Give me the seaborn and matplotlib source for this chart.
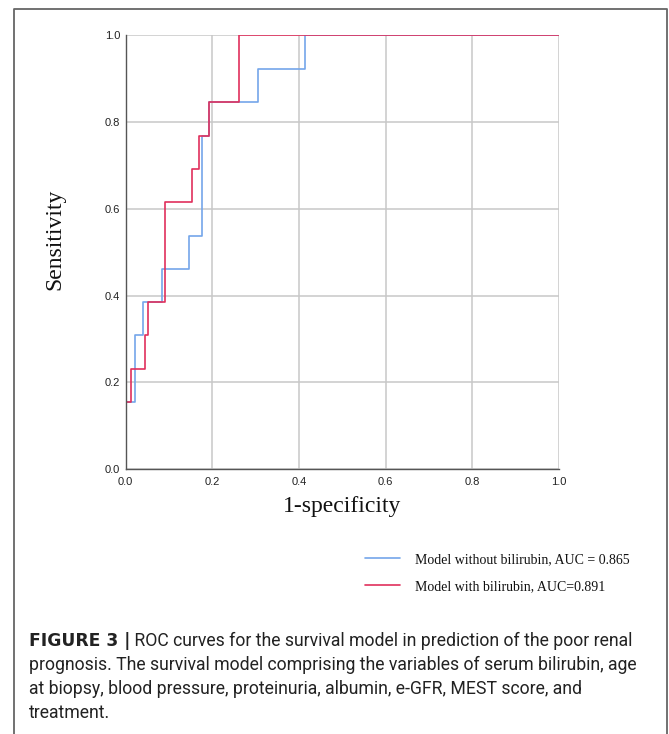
import matplotlib
matplotlib.use("Agg")
import matplotlib.pyplot as plt
import seaborn as sns
import pandas as pd
from matplotlib.lines import Line2D

# ---- data ----
blue_fpr = [0.0, 0.0, 0.022, 0.039, 0.0845, 0.147, 0.176, 0.192, 0.306, 0.414, 1.0]
blue_tpr = [0.0, 0.154, 0.308, 0.385, 0.462, 0.538, 0.769, 0.846, 0.923, 1.0, 1.0]
red_fpr = [0.0, 0.0, 0.0115, 0.045, 0.0515, 0.091, 0.153, 0.169, 0.192, 0.261, 1.0]
red_tpr = [0.0, 0.154, 0.231, 0.308, 0.385, 0.615, 0.692, 0.769, 0.846, 1.0, 1.0]
label_blue = "Model without bilirubin, AUC = 0.865"
label_red = "Model with bilirubin, AUC=0.891"
ticks = [0.0, 0.2, 0.4, 0.6, 0.8, 1.0]
tick_labels = ["0.0", "0.2", "0.4", "0.6", "0.8", "1.0"]
caption_bold = "FIGURE 3 |"
caption_lines = [
    " ROC curves for the survival model in prediction of the poor renal",
    "prognosis. The survival model comprising the variables of serum bilirubin, age",
    "at biopsy, blood pressure, proteinuria, albumin, e-GFR, MEST score, and",
    "treatment.",
]

sns.set_theme(style="white")
plt.rcParams["font.family"] = ["Liberation Sans", "DejaVu Sans"]

W, H = 669, 734
fig = plt.figure(figsize=(W / 100, H / 100), dpi=100)
fig.patch.set_facecolor("white")

def fx(px):
    return px / W

def fy(py):
    return (H - py) / H

ax = fig.add_axes([fx(125.7), fy(469), (559 - 125.7) / W, (469 - 35.5) / H])

df_b = pd.DataFrame({"fpr": blue_fpr, "tpr": blue_tpr})
df_r = pd.DataFrame({"fpr": red_fpr, "tpr": red_tpr})
sns.lineplot(data=df_b, x="fpr", y="tpr", ax=ax, estimator=None, sort=False,
             drawstyle="steps-post", color="#74a6ea", linewidth=1.2, label=label_blue)
sns.lineplot(data=df_r, x="fpr", y="tpr", ax=ax, estimator=None, sort=False,
             drawstyle="steps-post", color="#e0305c", linewidth=1.2, label=label_red)

ax.set_xlim(0, 1)
ax.set_ylim(0, 1)
ax.set_xticks(ticks)
ax.set_yticks(ticks)
ax.set_xticklabels(tick_labels)
ax.set_yticklabels(tick_labels)
ax.tick_params(axis="both", length=0, labelsize=8, colors="#222222")
ax.tick_params(axis="x", pad=6)
ax.tick_params(axis="y", pad=4)
ax.grid(True, color="#c8c8c8", linewidth=1.1)
ax.set_axisbelow(True)
for s in ["top", "right"]:
    ax.spines[s].set_visible(False)
for s in ["left", "bottom"]:
    ax.spines[s].set_color("#555555")
    ax.spines[s].set_linewidth(1.0)

ax.set_xlabel("1-specificity", family="Liberation Serif", fontsize=17, color="#111111")
ax.set_ylabel("Sensitivity", family="Liberation Serif", fontsize=17, color="#111111")
ax.xaxis.set_label_coords(0.5, -0.062)
ax.yaxis.set_label_coords(-0.14, 0.53)

handles, labels = ax.get_legend_handles_labels()
leg = ax.legend(handles, labels, loc="upper left", bbox_to_anchor=(fx(358), fy(546)),
                bbox_transform=fig.transFigure, frameon=False, borderpad=0,
                handlelength=2.5, handletextpad=1.1, labelspacing=1.0,
                prop={"family": "Liberation Serif", "size": 10})
for t in leg.get_texts():
    t.set_color("#111111")

# frame around figure panel
fig.add_artist(Line2D([fx(14), fx(14), fx(667), fx(667)],
                      [0.0, fy(9), fy(9), 0.0], transform=fig.transFigure,
                      color="#666666", linewidth=1.3))

# caption
cap_font = "Roboto"
cap_size = 12.7
baselines = [646, 670, 694, 718]
renderer = fig.canvas.get_renderer()
tb = fig.text(fx(29), fy(baselines[0]), caption_bold, fontsize=12.3,
              family="DejaVu Sans", fontweight="bold", va="baseline", color="#222222")
bb = tb.get_window_extent(renderer)
fig.text(bb.x1 / W, fy(baselines[0]), caption_lines[0], fontsize=cap_size,
         family=cap_font, va="baseline", color="#222222")
for line, b in zip(caption_lines[1:], baselines[1:]):
    fig.text(fx(29), fy(b), line, fontsize=cap_size, family=cap_font,
             va="baseline", color="#222222")

fig.savefig("out.png", dpi=100)
